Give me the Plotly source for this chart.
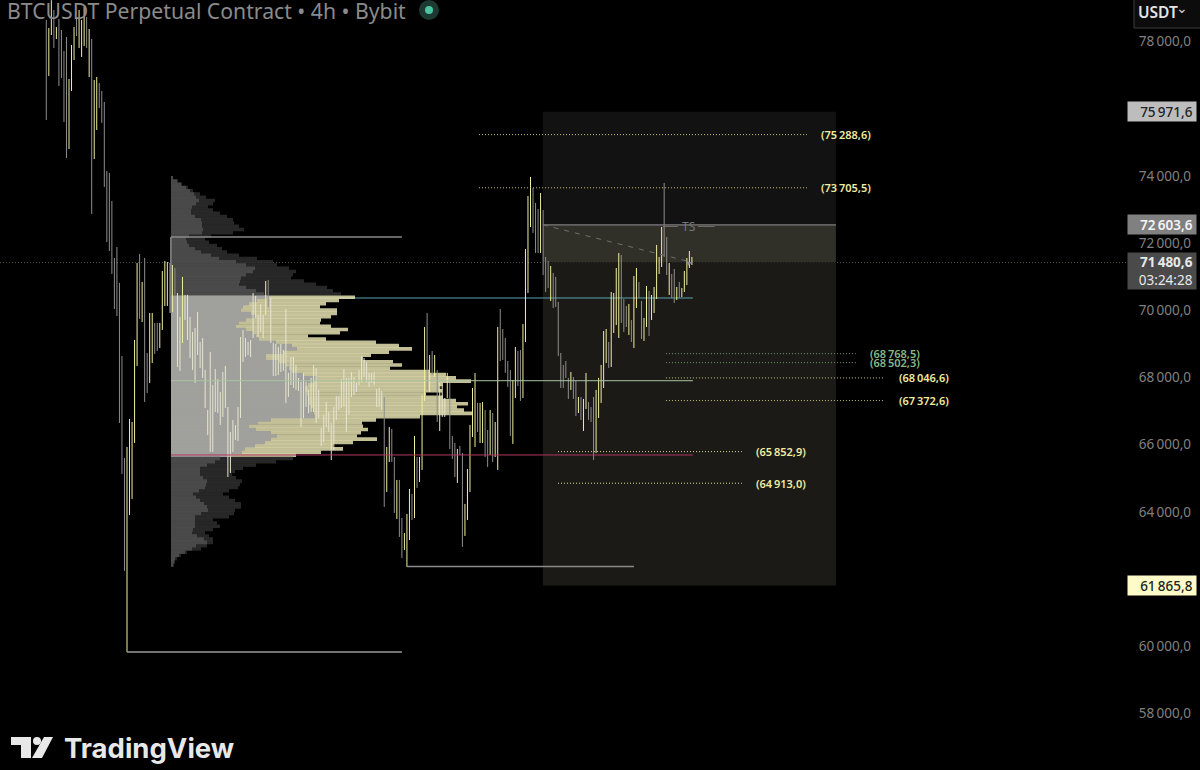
import plotly.graph_objects as go

# ---------- candles (4h bars, drawn as thin high-low strokes) ----------
bar_high = [
 78700,78462,79290,78997,78491,78730,78402,77777,78194,76944,
 77956,78491,78789,78997,78700,79087,78789,78432,78134,76914,
 77003,76825,76587,76259,74206,74147,73313,71617,71944,70873,
 68701,65665,65992,66826,66736,69177,71468,71736,70903,71617,
 68790,69980,69980,69683,69683,69683,71230,71528,71498,71468,
 71409,71319,70575,69861,71052,70516,70516,69861,69415,69534,
 70010,69117,69236,68284,67093,68820,67837,68313,68016,67629,
 68224,68403,67182,66439,66796,66647,67182,69266,69474,69236,
 69117,69177,70575,70486,69921,70248,69921,70933,70962,70427,
 69087,69058,68968,69058,68879,70099,68195,68671,68671,68433,
 68046,67927,68195,67927,67689,68046,68433,68343,67689,66558,
 66945,67332,67034,66706,67182,67510,67510,68016,68313,68046,
 68046,68224,68075,67897,68284,68700,68641,68522,68195,68195,
 68224,67718,67748,67659,67480,65992,66588,66528,65695,65010,
 65010,63879,63433,63999,64742,64594,66320,65695,65695,67540,
 69563,69980,68730,68849,68730,68284,67897,67837,67451,68195,
 67897,66320,66111,65933,66022,65814,64296,65338,66647,67748,
 68195,67302,67302,67332,67093,66498,67093,67004,66736,69563,
 70099,69504,69236,68552,68284,67986,68968,68849,68879,69653,
 71885,73462,74028,73700,73254,73075,73551,73045,71647,71528,
 71379,71171,71052,70308,68790,68433,68552,68046,68224,68075,
 67956,67480,67480,67421,68195,67332,67183,67480,67689,68046,
 68433,69444,69504,69117,70605,70575,71319,71766,71706,70397,
 70188,70248,69772,71081,71319,70903,70337,69831,70784,70635,
 70516,70754,72004,71647,72539,73849,72242,71468,71141,71289,
 70754,70903,70724,71230,71617,71825,71647]
bar_low = [
 75724,77033,78253,77867,78134,76736,76974,75664,74593,74861,
 76587,77509,78224,77867,77599,77926,77867,77003,72926,74563,
 75426,76081,75635,73730,72093,71825,71141,70099,69891,66707,
 65189,62302,59892,63969,64445,66111,68403,69802,69712,67331,
 67599,67897,68492,68760,68849,68938,69474,70188,70188,69980,
 70010,70516,68373,68254,69087,69772,69177,68641,68284,67897,
 68730,68343,68046,67153,66349,65844,65844,67034,67004,66647,
 66885,67153,65099,65219,65844,66201,66171,66855,68522,68671,
 68730,68671,69236,69831,69266,69414,69236,69921,70159,69087,
 68105,68105,68135,68224,68254,67302,67480,67837,67748,67689,
 67659,66588,66855,67182,67004,67034,67034,66707,66855,66022,
 66141,66588,66439,65605,65903,66796,67093,67153,67183,66439,
 66945,67480,67540,67629,67837,67927,68076,67927,67778,67897,
 67837,67183,67183,67093,64207,64653,65546,65546,64028,63850,
 63314,62689,62927,62421,63224,63820,63879,64772,64951,65308,
 67361,67689,67629,68135,68076,66736,66468,66885,66885,67451,
 65933,65635,65099,64921,65754,63016,63344,63820,64653,66290,
 65992,66439,66111,66111,65695,65397,65754,65546,65695,65308,
 68552,68582,68195,67778,66320,66082,67450,67808,67361,67450,
 69117,70575,72539,72361,71766,71766,71766,71111,70605,70724,
 70337,70129,70159,68700,67748,67748,68046,67421,67689,67421,
 66915,67004,66796,66468,67123,66796,66736,65605,65814,66855,
 67302,67748,68492,68343,68373,69385,69623,69236,69683,69415,
 69563,69326,69117,68938,70129,70427,69206,69147,69563,69296,
 69772,69980,70397,71141,71349,71647,71111,70516,70427,70278,
 70367,70427,70456,70605,70813,71319,71408]
# u = up bar, d = down bar, w = bar seen through the profile
bar_kind = "".join([
 "duududdddu","uuduuududu","uddddddddd","dduuuuudud","duudduuuud",
 "udwwuwwwww","wwwwwwwwww","wwwwwwwwww","wwwwwwwudw","wwwwwwwwww",
 "wwwwwwwwww","wwwwwwwwww","wwwwwwwwww","wwwwduuddu","dduuududuu",
 "udududuwwu","dddudduuuu","uduudduduu","ddddduuddu","uuuddduddd",
 "udddddddud","duduuddduu","uuuduuuudd","duduudduud","uuuuuddud",
 "d","uduuuuu"])

# ---------- volume profile: rows from the top, 96 USDT each ----------
profile_top = 74000
profile_step = 96
profile_total = [
 2,7,11,17,22,29,35,44,42,37,42,49,56,62,63,68,73,62,40,34,
 38,46,51,56,68,86,102,106,118,125,122,120,133,145,156,162,170,184,168,155,
 149,166,166,160,150,149,160,177,169,137,155,205,228,241,218,200,192,222,231,219,
 259,275,285,300,272,268,271,255,272,285,297,286,293,302,249,205,191,192,197,190,
 186,206,182,162,172,150,125,122,105,85,72,64,61,65,71,69,67,58,52,58,
 64,70,70,64,63,58,42,46,49,42,34,38,42,42,36,30,16,10,6,4,3]
profile_down = [
 2,6,10,15,19,23,25,28,25,21,20,20,24,30,31,31,32,31,18,15,
 16,18,24,30,40,48,65,75,84,82,75,70,69,68,75,85,93,96,86,78,
 72,70,80,84,75,68,65,75,82,85,88,105,121,126,112,95,95,108,115,118,
 121,132,146,142,137,134,134,136,137,137,138,140,142,143,144,100,87,78,85,100,
 106,100,94,84,74,71,60,49,44,36,29,29,29,32,36,35,34,28,22,25,
 29,33,36,37,30,24,24,24,24,22,21,26,33,36,25,21,14,8,4,3,2]
value_high = 70450
value_low = 65740

# ---------- price levels ----------
level_price = [75288.6, 73705.5, 68768.5, 68502.3, 68046.6, 67372.6, 65852.9, 64913.0]
level_text = ["(75\u2009288,6)", "(73\u2009705,5)", "(68\u2009768,5)", "(68\u2009502,3)",
              "(68\u2009046,6)", "(67\u2009372,6)", "(65\u2009852,9)", "(64\u2009913,0)"]
level_start = [171.6, 171.6, 245.7, 245.7, 245.7, 245.7, 202.9, 202.9]
level_end = [301.6, 301.6, 321, 321, 332.5, 332.5, 275.8, 275.8]
level_color = ["#c9c47e", "#c9c47e", "#6f9a6a", "#6f9a6a", "#c9c47e", "#c9c47e", "#e0dc98", "#e0dc98"]
level_text_color = ["#f0eba0", "#f0eba0", "#86b888", "#86b888", "#f0eba0", "#f0eba0", "#f0eba0", "#f0eba0"]

zone_top, zone_entry, zone_last, zone_bottom = 75971.6, 72603.6, 71480.6, 61865.8
zone_start, zone_end = 196.9, 313.1

poc_price, val_price, vah_price = 67964, 65754, 70426
range_high, range_low, swing_low = 72240, 59890, 62435

tick_vals = [78000, 74000, 72000, 70000, 68000, 66000, 64000, 60000, 58000]
tick_text = ["78\u2009000,0", "74\u2009000,0", "72\u2009000,0", "70\u2009000,0", "68\u2009000,0",
             "66\u2009000,0", "64\u2009000,0", "60\u2009000,0", "58\u2009000,0"]

# ---------- scale ----------
PX_W = 1192.0
def px(x): return x / PX_W
def py(y): return 1 - y / 770.0

fig = go.Figure()

levels = [profile_top - profile_step * i for i in range(len(profile_total))]
in_value = [value_low <= p <= value_high for p in levels]
fig.add_trace(go.Bar(y=levels, x=profile_total, orientation="h", width=profile_step * 1.12,
                     marker=dict(color=["rgba(226,222,176,0.86)" if v else "rgba(48,48,48,0.82)" for v in in_value], line_width=0),
                     hoverinfo="skip"))
fig.add_trace(go.Bar(y=levels, x=profile_down, orientation="h", width=profile_step * 1.12,
                     marker=dict(color=["rgba(156,156,156,0.9)" if v else "rgba(80,80,80,0.82)" for v in in_value], line_width=0),
                     hoverinfo="skip"))

def bar_trace(kind, color):
    xs, ys = [], []
    for i, (h, l, k) in enumerate(zip(bar_high, bar_low, bar_kind)):
        if k == kind:
            xs += [i, i, None]
            ys += [l, h, None]
    return go.Scatter(x=xs, y=ys, xaxis="x2", mode="lines", line=dict(color=color, width=1), hoverinfo="skip")

fig.add_trace(bar_trace("d", "#8e8e8e"))
fig.add_trace(bar_trace("u", "#f2ee9e"))
fig.add_trace(bar_trace("w", "#e6e6d0"))

def seg(x0, x1, y, color, width=1, dash="solid"):
    fig.add_trace(go.Scatter(x=[x0, x1], y=[y, y], xaxis="x2", mode="lines",
                             line=dict(color=color, width=width, dash=dash), hoverinfo="skip"))

for p, a, b, c in zip(level_price, level_start, level_end, level_color):
    seg(a, b, p, c, 1, "1px,2px")

seg(49.4, 256.4, poc_price, "#a8c6a0", 1)
seg(49.4, 256.4, val_price, "#b03860", 1)
seg(49.4, 141, range_high, "#8a8a8a", 1.5)
fig.add_trace(go.Scatter(x=[49.4, 49.4], y=[range_high, 69980], xaxis="x2", mode="lines",
                         line=dict(color="#8a8a8a", width=1.5), hoverinfo="skip"))
seg(32, 141, range_low, "#9a9a9a", 1.5)
seg(143, 233, swing_low, "#8a8a8a", 1.5)
seg(zone_start, zone_end, zone_entry, "#7c7c7c", 1.2)
seg(244.5, 250.4, 72554, "#6e6e6e", 1)
seg(258.4, 265, 72554, "#6e6e6e", 1)
fig.add_trace(go.Scatter(x=[zone_start, 256], y=[zone_entry, 71490], xaxis="x2", mode="lines",
                         line=dict(color="#6e6e6e", width=1, dash="5px,6px"), hoverinfo="skip"))

shapes = [
    dict(type="rect", xref="x2", yref="y", x0=zone_start, x1=zone_end, y0=zone_entry, y1=zone_top,
         fillcolor="#121212", line_width=0, layer="below"),
    dict(type="rect", xref="x2", yref="y", x0=zone_start, x1=zone_end, y0=zone_last, y1=zone_entry,
         fillcolor="#302f28", line_width=0, layer="below"),
    dict(type="rect", xref="x2", yref="y", x0=zone_start, x1=zone_end, y0=zone_bottom, y1=zone_last,
         fillcolor="#1b1a16", line_width=0, layer="below"),
    dict(type="line", xref="x2", yref="y", x0=49.4, x1=256.4, y0=vah_price, y1=vah_price,
         line=dict(color="#5aa3b4", width=1), layer="below"),
    dict(type="line", xref="paper", yref="y", x0=0, x1=px(1130), y0=zone_last, y1=zone_last,
         line=dict(color="#55554c", width=1, dash="1px,2px"), layer="below"),
    # TradingView mark
    dict(type="path", xref="paper", yref="paper", fillcolor="#e8e8e8", line_width=0,
         path=f"M{px(11)},{py(737)} L{px(31)},{py(737)} L{px(31)},{py(758)} L{px(21)},{py(758)} L{px(21)},{py(745)} L{px(11)},{py(745)} Z"),
    dict(type="circle", xref="paper", yref="paper", fillcolor="#e8e8e8", line_width=0,
         x0=px(33), x1=px(41), y0=py(745), y1=py(737)),
    dict(type="path", xref="paper", yref="paper", fillcolor="#e8e8e8", line_width=0,
         path=f"M{px(44)},{py(737)} L{px(53)},{py(737)} L{px(42)},{py(758)} L{px(32)},{py(758)} Z"),
    # status dot
    dict(type="circle", xref="paper", yref="paper", fillcolor="#1c3a32", line_width=0,
         x0=px(419), x1=px(439), y0=py(20), y1=py(0)),
    dict(type="circle", xref="paper", yref="paper", fillcolor="#4cc3a0", line_width=0,
         x0=px(425), x1=px(433), y0=py(14), y1=py(6)),
    # currency button
    dict(type="rect", xref="paper", yref="paper", x0=px(1134), x1=px(1201), y0=py(28), y1=py(-2),
         fillcolor="#0c0c0c", line=dict(color="#3c3c3c", width=1)),
]

FONT = "Noto Sans"
ann = []
for p, t, c, a, b in zip(level_price, level_text, level_text_color, level_start, level_end):
    ann.append(dict(x=b + 4.7, y=p, xref="x2", yref="y", text=t, showarrow=False, xanchor="left",
                    font=dict(family=FONT, size=11, color=c, weight=600)))
ann.append(dict(x=254.8, y=72554, xref="x2", yref="y", text="TS", showarrow=False,
                font=dict(family=FONT, size=12, color="#767676")))
ann.append(dict(x=256, y=71490, ax=-7, ay=2, xref="x2", yref="y", text="", showarrow=True, arrowhead=2,
                arrowsize=1, arrowwidth=1, arrowcolor="#8a8a8a"))
ann.append(dict(x=px(5), y=py(11), xref="paper", yref="paper", text="BTCUSDT Perpetual Contract • 4h • Bybit",
                xanchor="left", yanchor="middle", showarrow=False,
                font=dict(family=FONT, size=21.2, color="#8b8b8b")))
ann.append(dict(x=px(62), y=py(748), xref="paper", yref="paper", text="TradingView", xanchor="left", yanchor="middle",
                showarrow=False, font=dict(family="Inter", size=27.5, color="#e8e8e8", weight=700)))
ann.append(dict(x=px(1136), y=py(12), xref="paper", yref="paper", text="USDT", xanchor="left", yanchor="middle",
                showarrow=False, font=dict(family=FONT, size=15.5, color="#e4e4e4", weight=600)))
ann.append(dict(x=px(1190), y=py(8), xref="paper", yref="paper", text="⌄", showarrow=False, yanchor="middle",
                font=dict(family="DejaVu Sans", size=14, color="#cccccc")))

def tag(price, text, bg, fg, weight=500):
    ann.append(dict(x=px(1197), y=price, xref="paper", yref="y", xanchor="right", yanchor="middle", text=text,
                    showarrow=False, bgcolor=bg, width=68, height=19, align="right", borderpad=0,
                    font=dict(family=FONT, size=13.5, color=fg, weight=weight)))

tag(zone_top, "75\u2009971,6\u2009\u200a", "#bdbdbd", "#222222")
tag(zone_entry, "72\u2009603,6\u2009\u200a", "#808080", "#f4f4f4", 600)
tag(zone_bottom, "61\u2009865,8\u2009\u200a", "#fdfbc8", "#222222")
ann.append(dict(x=px(1197), y=py(271), xref="paper", yref="paper", xanchor="right", yanchor="middle",
                text="<b>71\u2009480,6</b>\u2009\u200a<br>03:24:28\u2009\u200a", showarrow=False, bgcolor="#4a4a4a",
                width=68, height=36, align="right", borderpad=0,
                font=dict(family=FONT, size=13.5, color="#e8e8e8")))

fig.update_layout(
    width=1200, height=770, margin=dict(l=0, r=8, t=0, b=0),
    paper_bgcolor="#000000", plot_bgcolor="#000000", showlegend=False, barmode="overlay",
    xaxis=dict(range=[-171, 1021], visible=False, fixedrange=True),
    xaxis2=dict(range=[-18.36, 454.3], overlaying="x", visible=False, fixedrange=True),
    yaxis=dict(range=[56378, 79294.6], side="right", tickvals=tick_vals, ticktext=tick_text,
               ticklabelposition="inside", showgrid=False, zeroline=False, showline=False, ticks="",
               ticklabelshift=-2, ticklabelstandoff=-2,
               tickfont=dict(family=FONT, size=13.5, color="#808080")),
    shapes=shapes, annotations=ann,
)

fig.write_html("out.html", config=dict(displayModeBar=False),
               post_script="document.body.style.margin='0';document.body.style.background='#000';")
